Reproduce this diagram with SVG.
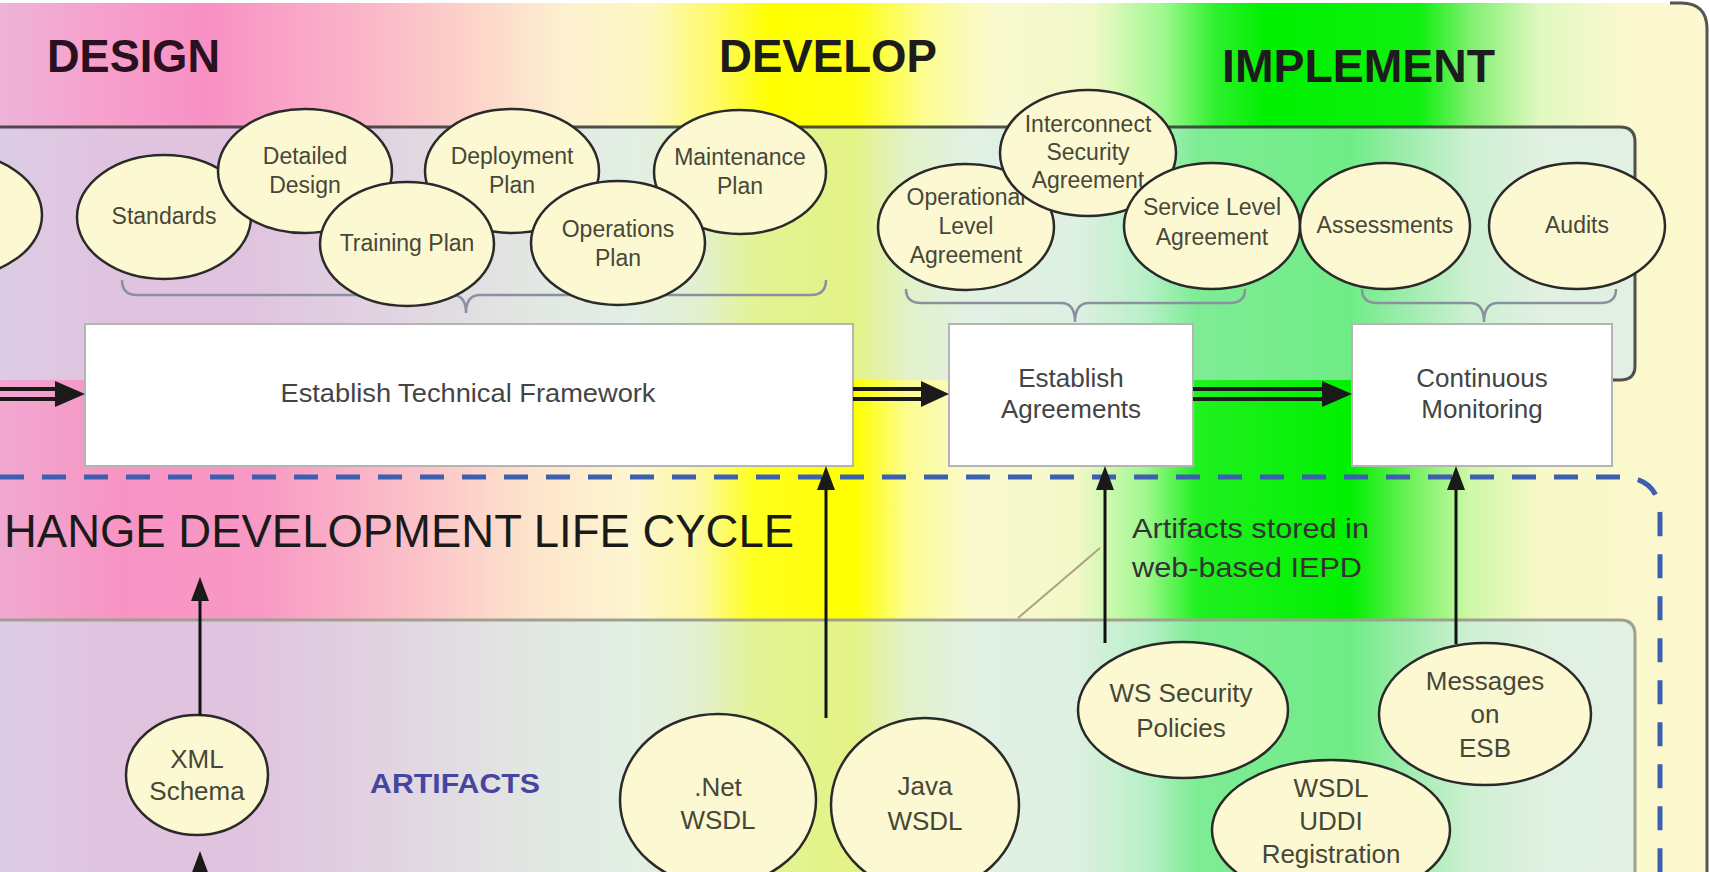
<svg xmlns="http://www.w3.org/2000/svg" width="1710" height="872" viewBox="0 0 1710 872">
<defs>
<linearGradient id="gA" x1="0" y1="0" x2="1710" y2="0" gradientUnits="userSpaceOnUse">
<stop offset="0" stop-color="#eeb4d8"/><stop offset="0.06" stop-color="#f6a0cc"/><stop offset="0.12" stop-color="#f890c4"/>
<stop offset="0.20" stop-color="#fab0c8"/><stop offset="0.27" stop-color="#fcd0c8"/><stop offset="0.33" stop-color="#fdf0d0"/>
<stop offset="0.38" stop-color="#fdf8c0"/><stop offset="0.42" stop-color="#fffa60"/><stop offset="0.45" stop-color="#ffff00"/>
<stop offset="0.50" stop-color="#ffff10"/><stop offset="0.54" stop-color="#fcfc90"/><stop offset="0.58" stop-color="#fafad0"/>
<stop offset="0.64" stop-color="#f0f8c8"/><stop offset="0.68" stop-color="#a0f890"/><stop offset="0.71" stop-color="#30f030"/>
<stop offset="0.74" stop-color="#00f000"/><stop offset="0.83" stop-color="#10f010"/><stop offset="0.86" stop-color="#80f070"/>
<stop offset="0.90" stop-color="#e0f8c0"/><stop offset="0.95" stop-color="#fcf8d0"/><stop offset="1" stop-color="#fdf8d0"/>
</linearGradient>
<linearGradient id="gB" x1="0" y1="0" x2="1710" y2="0" gradientUnits="userSpaceOnUse">
<stop offset="0" stop-color="#f0a8d0"/><stop offset="0.07" stop-color="#f894c4"/><stop offset="0.15" stop-color="#f898c4"/>
<stop offset="0.24" stop-color="#fbc0c8"/><stop offset="0.31" stop-color="#fde4cc"/><stop offset="0.37" stop-color="#fdf6d0"/>
<stop offset="0.41" stop-color="#fcf8a0"/><stop offset="0.44" stop-color="#ffff20"/><stop offset="0.50" stop-color="#ffff00"/>
<stop offset="0.53" stop-color="#fcfc90"/><stop offset="0.57" stop-color="#fafad0"/><stop offset="0.63" stop-color="#f2f8c8"/>
<stop offset="0.67" stop-color="#a0f890"/><stop offset="0.70" stop-color="#20f020"/><stop offset="0.79" stop-color="#00f000"/>
<stop offset="0.82" stop-color="#60f050"/><stop offset="0.86" stop-color="#d0f8a8"/><stop offset="0.90" stop-color="#f8f8c8"/>
<stop offset="1" stop-color="#fdf8d0"/>
</linearGradient>
<style>
text{font-family:"Liberation Sans",Arial,sans-serif}
.head{font-weight:bold;font-size:47px;fill:#1c1c1c}
.ell{fill:#fcf9d2;stroke:#2a2a2a;stroke-width:2.5}
.el{font-size:23px;fill:#474738;text-anchor:middle}
.ll{font-size:26px;fill:#474738;text-anchor:middle}
.box{fill:#ffffff;stroke:#b4b4b4;stroke-width:2}
.bt{font-size:26px;fill:#444;text-anchor:middle}
.panel{fill:#cceaf6;fill-opacity:0.55}
.brace{fill:none;stroke:#8a90a0;stroke-width:2.5}
.dl{stroke:#1a1a1a;stroke-width:4;fill:none}
.hd{fill:#1a1a1a}
.va{stroke:#111;stroke-width:3;fill:none}
</style>
</defs>

<!-- background -->
<rect x="0" y="0" width="1710" height="872" fill="#ffffff"/>
<rect x="-30" y="3" width="1737" height="900" rx="26" fill="url(#gB)"/>
<path d="M-10,3 H1681 Q1707,3 1707,29 V127 H-10 Z" fill="url(#gA)"/>
<path d="M1670,3 H1681 Q1707,3 1707,29 V880" fill="none" stroke="#555" stroke-width="3"/>

<!-- top panel -->
<g id="top-panel">
<path class="panel" d="M-10,127 H1620 Q1635,127 1635,142 V366 Q1635,380 1620,380 H-10 Z"/>
<path d="M-10,127 H1620 Q1635,127 1635,142 V366 Q1635,380 1620,380 H1605" fill="none" stroke="#333" stroke-width="3" stroke-opacity="0.85"/>
</g>

<!-- lower panel -->
<g id="lower-panel">
<path class="panel" d="M-10,620 H1620 Q1635,620 1635,635 V890 H-10 Z"/>
<path d="M-10,620 H1620 Q1635,620 1635,635 V890" fill="none" stroke="#a0a090" stroke-width="3"/>
</g>

<!-- headings -->
<g id="headings">
<text class="head" x="47" y="72" textLength="173" lengthAdjust="spacingAndGlyphs" fill="#2b1020" style="fill:#2b1020">DESIGN</text>
<text class="head" x="719" y="72" textLength="218" lengthAdjust="spacingAndGlyphs">DEVELOP</text>
<text class="head" x="1222" y="82" textLength="273" lengthAdjust="spacingAndGlyphs">IMPLEMENT</text>
<text x="4" y="547" font-size="46" fill="#1a1a1a" textLength="790" lengthAdjust="spacingAndGlyphs">HANGE DEVELOPMENT LIFE CYCLE</text>
<text x="370" y="793" font-size="27" font-weight="bold" fill="#4646a0" textLength="170" lengthAdjust="spacingAndGlyphs">ARTIFACTS</text>
<text x="1132" y="538" font-size="28" fill="#333" textLength="237" lengthAdjust="spacingAndGlyphs">Artifacts stored in</text>
<text x="1132" y="577" font-size="28" fill="#333" textLength="230" lengthAdjust="spacingAndGlyphs">web-based IEPD</text>
</g>

<!-- dashed boundary and callout line -->
<g id="boundary">
<path d="M0,477 H1620 Q1660,477 1660,517 V880" fill="none" stroke="#3c5fb0" stroke-width="5" stroke-dasharray="24 18"/>
<line x1="1100" y1="548" x2="1018" y2="618" stroke="#b0a080" stroke-width="2"/>
</g>

<!-- braces -->
<g id="braces">
<path class="brace" d="M122,280 Q122,295 137,295 H452 Q466,295 466,313 Q466,295 480,295 H811 Q826,295 826,280"/>
<path class="brace" d="M906,289 Q906,303 921,303 H1061 Q1075,303 1075,322 Q1075,303 1089,303 H1230 Q1245,303 1245,289"/>
<path class="brace" d="M1362,289 Q1362,303 1377,303 H1470 Q1484,303 1484,322 Q1484,303 1498,303 H1601 Q1616,303 1616,289"/>
</g>

<!-- upper ellipses -->
<g id="n-partial"><ellipse class="ell" cx="-46" cy="215" rx="88" ry="62"/></g>
<g id="n-standards"><ellipse class="ell" cx="164" cy="217" rx="87" ry="62"/><text class="el" x="164" y="224">Standards</text></g>
<g id="n-detailed-design"><ellipse class="ell" cx="305" cy="171" rx="87" ry="62"/><text class="el" x="305" y="164">Detailed</text><text class="el" x="305" y="193">Design</text></g>
<g id="n-deployment-plan"><ellipse class="ell" cx="512" cy="171" rx="87" ry="62"/><text class="el" x="512" y="164">Deployment</text><text class="el" x="512" y="193">Plan</text></g>
<g id="n-maintenance-plan"><ellipse class="ell" cx="740" cy="172" rx="86" ry="62"/><text class="el" x="740" y="165">Maintenance</text><text class="el" x="740" y="194">Plan</text></g>
<g id="n-training-plan"><ellipse class="ell" cx="407" cy="244" rx="87" ry="62"/><text class="el" x="407" y="251">Training Plan</text></g>
<g id="n-operations-plan"><ellipse class="ell" cx="618" cy="243" rx="87" ry="62"/><text class="el" x="618" y="237">Operations</text><text class="el" x="618" y="266">Plan</text></g>
<g id="n-ola"><ellipse class="ell" cx="966" cy="227" rx="88" ry="63"/><text class="el" x="966" y="205">Operational</text><text class="el" x="966" y="234">Level</text><text class="el" x="966" y="263">Agreement</text></g>
<g id="n-isa"><ellipse class="ell" cx="1088" cy="153" rx="88" ry="63"/><text class="el" x="1088" y="132">Interconnect</text><text class="el" x="1088" y="160">Security</text><text class="el" x="1088" y="188">Agreement</text></g>
<g id="n-sla"><ellipse class="ell" cx="1212" cy="226" rx="88" ry="63"/><text class="el" x="1212" y="215">Service Level</text><text class="el" x="1212" y="245">Agreement</text></g>
<g id="n-assessments"><ellipse class="ell" cx="1385" cy="226" rx="85" ry="63"/><text class="el" x="1385" y="233">Assessments</text></g>
<g id="n-audits"><ellipse class="ell" cx="1577" cy="226" rx="88" ry="63"/><text class="el" x="1577" y="233">Audits</text></g>

<!-- process boxes -->
<g id="n-framework"><rect class="box" x="85" y="324" width="768" height="142"/><text class="bt" x="468" y="402" textLength="375" lengthAdjust="spacingAndGlyphs">Establish Technical Framework</text></g>
<g id="n-agreements"><rect class="box" x="949" y="324" width="244" height="142"/><text class="bt" x="1071" y="387">Establish</text><text class="bt" x="1071" y="418">Agreements</text></g>
<g id="n-monitoring"><rect class="box" x="1352" y="324" width="260" height="142"/><text class="bt" x="1482" y="387">Continuous</text><text class="bt" x="1482" y="418">Monitoring</text></g>

<!-- artifacts -->
<g id="n-xml-schema"><ellipse class="ell" cx="197" cy="775" rx="71" ry="60"/><text class="ll" x="197" y="768">XML</text><text class="ll" x="197" y="800">Schema</text></g>
<g id="n-net-wsdl"><ellipse class="ell" cx="718" cy="800" rx="98" ry="86"/><text class="ll" x="718" y="796">.Net</text><text class="ll" x="718" y="829">WSDL</text></g>
<g id="n-java-wsdl"><ellipse class="ell" cx="925" cy="805" rx="94" ry="87"/><text class="ll" x="925" y="795">Java</text><text class="ll" x="925" y="830">WSDL</text></g>
<g id="n-ws-security"><ellipse class="ell" cx="1183" cy="710" rx="105" ry="68"/><text class="ll" x="1181" y="702">WS Security</text><text class="ll" x="1181" y="737">Policies</text></g>
<g id="n-messages"><ellipse class="ell" cx="1485" cy="714" rx="106" ry="71"/><text class="ll" x="1485" y="690">Messages</text><text class="ll" x="1485" y="723">on</text><text class="ll" x="1485" y="757">ESB</text></g>
<g id="n-uddi"><ellipse class="ell" cx="1331" cy="830" rx="119" ry="70"/><text class="ll" x="1331" y="797">WSDL</text><text class="ll" x="1331" y="830">UDDI</text><text class="ll" x="1331" y="863">Registration</text></g>

<!-- connectors -->
<g id="connectors">
<g id="e-in-framework"><path class="dl" d="M0,389 H58 M0,399 H58"/><polygon class="hd" points="55,381 85,394 55,407"/></g>
<g id="e-framework-agreements"><path class="dl" d="M853,389 H924 M853,399 H924"/><polygon class="hd" points="921,381 949,394 921,407"/></g>
<g id="e-agreements-monitoring"><path class="dl" d="M1193,389 H1325 M1193,399 H1325"/><polygon class="hd" points="1322,381 1352,394 1322,407"/></g>
<g id="e-xml-up"><line class="va" x1="200" y1="715" x2="200" y2="595"/><polygon class="hd" points="200,577 191,601 209,601"/></g>
<g id="e-bottom-xml"><line class="va" x1="200" y1="872" x2="200" y2="868"/><polygon class="hd" points="200,851 191,875 209,875"/></g>
<g id="e-java-framework"><line class="va" x1="826" y1="718" x2="826" y2="484"/><polygon class="hd" points="826,466 817,490 835,490"/></g>
<g id="e-ws-agreements"><line class="va" x1="1105" y1="643" x2="1105" y2="484"/><polygon class="hd" points="1105,466 1096,490 1114,490"/></g>
<g id="e-messages-monitoring"><line class="va" x1="1456" y1="644" x2="1456" y2="484"/><polygon class="hd" points="1456,466 1447,490 1465,490"/></g>
</g>
</svg>
